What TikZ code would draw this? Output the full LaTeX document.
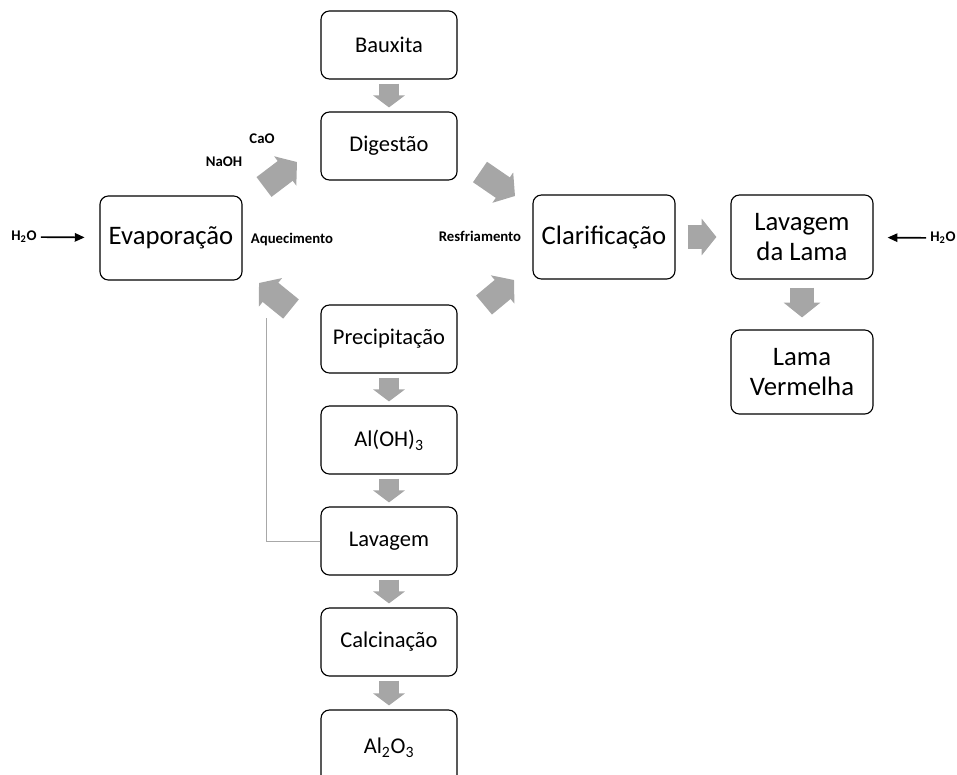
\documentclass[tikz,border=0pt]{standalone}
\usepackage{fontspec}
\setmainfont{Carlito}
\usetikzlibrary{arrows.meta}

\definecolor{arrowgray}{HTML}{A6A6A6}
\definecolor{linegray}{HTML}{A8A8A8}

\tikzset{
  box/.style={draw, rounded corners=6pt, line width=0.8pt, minimum width=3.4cm,
    minimum height=1.7cm, align=center, inner sep=2pt, font=\fontsize{16}{18}\selectfont},
  bigbox/.style={box, minimum width=3.55cm, minimum height=2.1cm,
    font=\fontsize{19}{21}\selectfont},
  blockarrow/.style={draw=arrowgray, line width=0.5cm,
    -{Triangle[width=0.78cm,length=0.3cm]}},
  widearrow/.style={draw=arrowgray, line width=0.62cm,
    -{Triangle[width=0.9cm,length=0.37cm]}},
  feed/.style={line width=1.2pt, -{Triangle[width=6pt,length=7pt]}},
  returnline/.style={draw=linegray, line width=0.6pt},
  lbl/.style={font=\bfseries\fontsize{10.5}{12}\selectfont, inner sep=0pt},
}

\begin{document}
\begin{tikzpicture}[x=0.025cm, y=-0.025cm]
\useasboundingbox (0,0) rectangle (957,774);

% caixas
\node[box] (baux) at (389,45) {Bauxita};
\node[box] (dig) at (389,146) {Digestão};
\node[bigbox] (evap) at (171,238) {Evaporação};
\node[bigbox] (clar) at (604,237) {Clarificação};
\node[bigbox] (lavl) at (802,237) {Lavagem\\da Lama};
\node[bigbox] (lama) at (802,372) {Lama\\Vermelha};
\node[box] (prec) at (389,339) {Precipitação};
\node[box] (aloh) at (389,440) {Al(OH)\textsubscript{3}};
\node[box] (lav) at (389,541) {Lavagem};
\node[box] (calc) at (389,642) {Calcinação};
\node[box, minimum height=1.9cm] (alo) at (389,748) {Al\textsubscript{2}O\textsubscript{3}};

% rotulos
\node[lbl] (cao) at (262,139) {CaO};
\node[lbl] (naoh) at (224,162) {NaOH};
\node[lbl] (aquec) at (292,239) {Aquecimento};
\node[lbl] (resf) at (480,236) {Resfriamento};
\node[lbl] (h2oL) at (24,237) {H\textsubscript{2}O};
\node[lbl] (h2oR) at (943,238) {H\textsubscript{2}O};

% setas verticais
\draw[blockarrow, shorten <=0.1cm, shorten >=0.1cm] (baux) -- (dig);
\draw[blockarrow, shorten <=0.1cm, shorten >=0.1cm] (prec) -- (aloh);
\draw[blockarrow, shorten <=0.1cm, shorten >=0.1cm] (aloh) -- (lav);
\draw[blockarrow, shorten <=0.1cm, shorten >=0.1cm] (lav) -- (calc);
\draw[blockarrow, shorten <=0.1cm, shorten >=0.1cm] (calc) -- (alo);
\draw[widearrow, shorten <=0.3cm, shorten >=0.35cm] (clar) -- (lavl);
\draw[widearrow, shorten <=0.2cm, shorten >=0.3cm] (lavl) -- (lama);

% setas diagonais
\coordinate (e1) at (264,187);
\coordinate (e2) at (297,162);
\coordinate (d1) at (480,172);
\coordinate (d2) at (515,196);
\coordinate (p1) at (484,305);
\coordinate (p2) at (514,280);
\coordinate (q1) at (291,309);
\coordinate (q2) at (259,283);
\draw[widearrow] (e1) -- (e2);
\draw[widearrow] (d1) -- (d2);
\draw[widearrow] (p1) -- (p2);
\draw[widearrow] (q1) -- (q2);

% retorno
\coordinate (ret) at (266,318);
\draw[returnline] (lav.west) -| (ret);

% agua
\draw[feed, shorten <=0.1cm, shorten >=0.37cm] (h2oL) -- (evap);
\draw[feed, shorten <=0.1cm, shorten >=0.35cm] (h2oR) -- (lavl);
\end{tikzpicture}
\end{document}
